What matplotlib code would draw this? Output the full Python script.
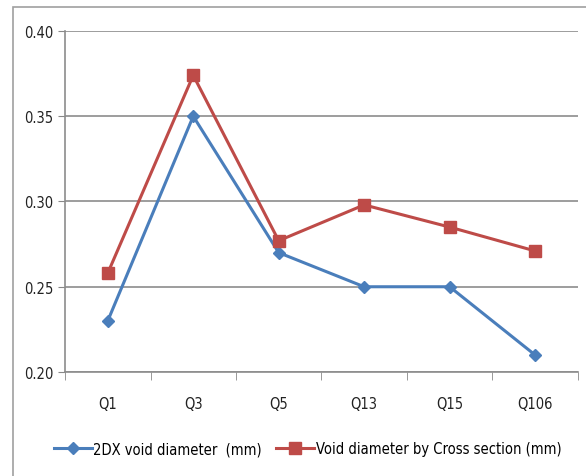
import matplotlib
matplotlib.use("Agg")
import matplotlib.pyplot as plt
from matplotlib.patches import Rectangle

samples = ["Q1", "Q3", "Q5", "Q13", "Q15", "Q106"]
xray_diam = [0.23, 0.35, 0.27, 0.25, 0.25, 0.21]
cross_diam = [0.258, 0.374, 0.277, 0.298, 0.285, 0.271]
yticks = [0.20, 0.25, 0.30, 0.35, 0.40]

plt.rcParams["font.family"] = "DejaVu Sans"
plt.rcParams["font.stretch"] = "condensed"

BLUE = "#4a7ebb"
RED = "#be4b48"

fig = plt.figure(figsize=(5.86, 4.77), dpi=100)
ax = fig.add_axes([0.111, 0.218, 0.875, 0.715])

# outer chart-area frame (runs off the right and bottom edges)
fig.patches.append(Rectangle((13 / 586, -0.1), 1, 1.1 - 8 / 477, transform=fig.transFigure,
                             fill=False, ec="#a0a0a0", lw=1.2, zorder=0))

x = range(len(samples))
ax.plot(x, xray_diam, color=BLUE, lw=2.2, marker="D", ms=6.5, label="2DX void diameter  (mm)")
ax.plot(x, cross_diam, color=RED, lw=2.2, marker="s", ms=8, label="Void diameter by Cross section (mm)")

ax.set_xlim(-0.5, len(samples) - 0.5)
ax.set_ylim(0.20, 0.40)
ax.set_yticks(yticks)
ax.set_yticklabels([f"{v:.2f}" for v in yticks], fontsize=10.5, color="#222")
ax.set_xticks(list(x))
ax.set_xticklabels(samples, fontsize=10.5, color="#222")
ax.set_xticks([i + 0.5 for i in range(-1, len(samples))], minor=True)
ax.tick_params(axis="x", which="major", length=0, pad=17)
ax.tick_params(axis="x", which="minor", length=6, color="#888")
ax.tick_params(axis="y", length=5, color="#888")
ax.yaxis.grid(True, color="#8c8c8c", lw=1.2)
ax.set_axisbelow(True)
for s in ["top", "right"]:
    ax.spines[s].set_visible(False)
for s in ["left", "bottom"]:
    ax.spines[s].set_color("#8c8c8c")
    ax.spines[s].set_linewidth(1.2)

fig.legend(loc="center", bbox_to_anchor=(0.525, 0.057), ncol=2, frameon=False,
           fontsize=10.5, handlelength=2.6, columnspacing=1.0, handletextpad=0.1)

fig.savefig("out.png", dpi=100)
